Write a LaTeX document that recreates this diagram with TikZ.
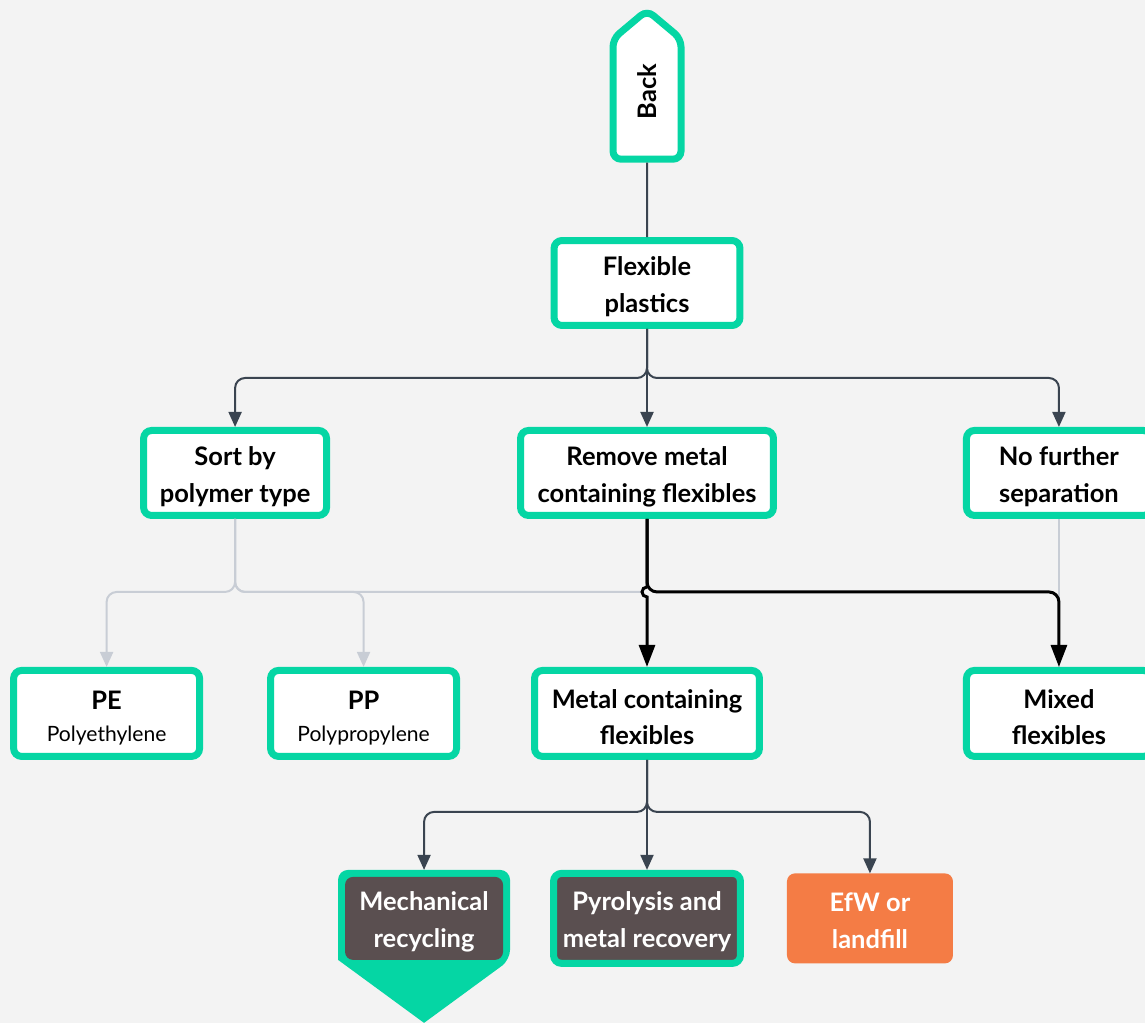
\documentclass[tikz,border=0pt]{standalone}
\usepackage{fontspec}
\setmainfont{Lato}
\usetikzlibrary{arrows.meta,positioning,calc,shapes.symbols}
\definecolor{mint}{HTML}{05D6A4}
\definecolor{slate}{HTML}{3A4450}
\definecolor{mist}{HTML}{C8CDD5}
\definecolor{cocoa}{HTML}{5A4F50}
\definecolor{ember}{HTML}{F47C45}
\definecolor{paperbg}{HTML}{F3F3F3}
\pgfdeclarelayer{paper}
\pgfdeclarelayer{plate}
\pgfsetlayers{paper,plate,main}

\begin{document}
\begin{tikzpicture}[x=0.02cm, y=-0.02cm, node distance=2cm and 1cm,
  every node/.style={align=center, font=\fontsize{14.5}{21}\selectfont\bfseries},
  box/.style={draw=mint, line width=0.14cm, fill=white, rounded corners=0.16cm, minimum width=3.7cm, minimum height=1.7cm, inner sep=2pt, text height=36pt},
  darkbox/.style={box, fill=cocoa, text=white},
  link/.style={draw=slate, line width=0.04cm, >={Triangle[length=0.3cm,width=0.26cm]}},
  pale/.style={link, draw=mist},
  strong/.style={draw=black, line width=0.06cm, >={Triangle[length=0.44cm,width=0.32cm]}}]
\useasboundingbox (0,0) rectangle (1145,1023);
\begin{pgfonlayer}{paper}
\fill[paperbg] (0,0) rectangle (1145,1023);
\end{pgfonlayer}

\node[box, shape=signal, signal to=east, signal pointer angle=100, rotate=90, minimum width=2.98cm, minimum height=1.36cm, inner sep=0pt, text height=] (back) at (647,99) {\hspace*{0.3cm}Back};
\node[box, minimum width=3.72cm] (flex) at (647,283) {Flexible\\plastics};
\node[box, below=1.96cm of flex, minimum width=5.06cm] (remove) {Remove metal\\containing flexibles};
\node[box, left=3.74cm of remove, minimum width=3.66cm] (sort) {Sort by\\polymer type};
\node[box, right=3.72cm of remove] (nofurther) {No further\\separation};
\node[box, below=2.96cm of remove, minimum width=4.5cm, minimum height=1.72cm] (metal) {Metal containing\\flexibles};
\node[box, below=2.96cm of nofurther, minimum height=1.72cm] (mixed) {Mixed\\flexibles};
\node[box, left=1.42cm of metal, minimum width=3.72cm, minimum height=1.72cm, text height=34pt] (pp) {PP\\[-3pt]{\fontsize{12}{14}\selectfont\mdseries Polypropylene}};
\node[box, left=1.28cm of pp, minimum width=3.72cm, minimum height=1.72cm, text height=34pt] (pe) {PE\\[-3pt]{\fontsize{12}{14}\selectfont\mdseries Polyethylene}};
\node[darkbox, below=2.2cm of metal, minimum width=3.74cm, minimum height=1.8cm] (pyro) {Pyrolysis and\\metal recovery};
\node[darkbox, draw=none, left=0.8cm of pyro, minimum width=3.16cm, minimum height=1.66cm, outer sep=0.14cm] (mech) {Mechanical\\recycling};
\node[fill=ember, text=white, rounded corners=0.16cm, right=0.86cm of pyro, minimum width=3.32cm, minimum height=1.8cm, outer sep=0pt, text height=34pt] (efw) {EfW or\\landfill};
\coordinate (hop) at ($(remove.south)+(0,73)$);

% arrow plate behind mechanical recycling
\begin{pgfonlayer}{plate}
\fill[mint] [rounded corners=0.2cm] ($(mech.south west)+(0,-7)$) -- (mech.north west) -- (mech.north east) -- ($(mech.south east)+(0,-7)$) [sharp corners] -- ($(mech.south)+(0,56)$) -- cycle;
\end{pgfonlayer}

\draw[link] (back) -- (flex);
\draw[link,->] (flex) -- (remove);
\draw[link,->,rounded corners=0.2cm] (flex.south) -- ++(0,49) -| (sort.north);
\draw[link,->,rounded corners=0.2cm] (flex.south) -- ++(0,49) -| (nofurther.north);

\draw[pale,->,rounded corners=0.2cm] (sort.south) -- ++(0,73) -| (pe.north);
\draw[pale,->,rounded corners=0.2cm] (sort.south) -- ++(0,73) -| (pp.north);
\draw[pale,rounded corners=0.2cm] (sort.south) -- ++(0,73) -- ($(hop)+(-5,0)$);
\draw[pale] (nofurther) -- (mixed);

\draw[strong,->] (remove.south) -- ($(hop)+(0,-5)$) arc[start angle=90, end angle=270, radius=0.1cm] -- (metal.north);
\draw[strong,->,rounded corners=0.2cm] (remove.south) -- ++(0,73) -| (mixed.north);

\draw[link,->,rounded corners=0.2cm] (metal.south) -- ++(0,52) -| (mech.north);
\draw[link,->] (metal) -- (pyro);
\draw[link,->,rounded corners=0.2cm] (metal.south) -- ++(0,52) -| (efw.north);
\end{tikzpicture}
\end{document}
